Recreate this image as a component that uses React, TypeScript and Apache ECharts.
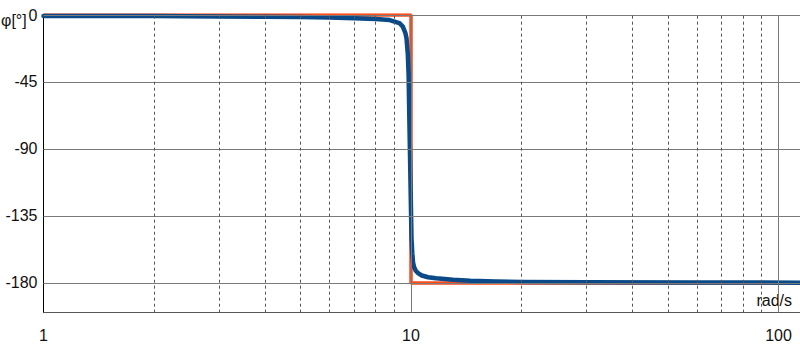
import React, { useEffect, useRef } from "react";
import * as echarts from "echarts";

// Bode phase plot data
const freq = [1, 2, 3, 4, 5, 6, 7, 8, 8.75, 9.3, 9.5, 9.65, 9.72, 9.8, 9.85, 9.88, 9.93, 9.98, 10.03, 10.08, 10.13, 10.2, 10.3, 10.45, 10.7, 11.13, 11.7, 12.35, 13, 14.5, 17, 20, 30, 60, 114.4];
const phase = [-0.6, -0.7, -1.0, -1.2, -1.4, -1.7, -2.1, -2.7, -3.4, -5.4, -7.8, -12, -15.4, -26, -40, -60, -90, -120, -150, -160, -166.5, -169.5, -171.8, -173.4, -175, -176.2, -176.9, -177.4, -177.9, -178.6, -179.1, -179.3, -179.5, -179.7, -179.8];

const idealFreq = [1, 10, 10, 114.4];
const idealPhase = [0, 0, -180, -180];

const yTicks = [0, -45, -90, -135, -180];
const xMajor = [1, 10, 100];
const xMajorGrid = [10, 100];
const xMinor = [2, 3, 4, 5, 6, 7, 8, 9, 20, 30, 40, 50, 60, 70, 80, 90];

const FONT = "'Liberation Sans', Arial, Helvetica, sans-serif";

export default function App() {
  const ref = useRef<HTMLDivElement>(null);
  useEffect(() => {
    document.body.style.margin = "0";
    const chart = echarts.init(ref.current!, null, { renderer: "svg" });
    const option: any = {
      animation: false,
      grid: { left: 43.5, right: 0, top: 15, bottom: 33.3, containLabel: false, outerBoundsMode: "none" },
      xAxis: {
        type: "log",
        logBase: 10,
        min: 1,
        max: 114.4,
        axisLine: { show: true, onZero: false, lineStyle: { color: "#555", width: 1 } },
        axisTick: { show: false },
        splitLine: { show: false },
        axisLabel: {
          margin: 15,
          fontSize: 16,
          fontFamily: FONT,
          color: "#111",
          formatter: (v: number) => {
            const m = xMajor.find((t) => Math.abs(t - v) < 1e-6 * t);
            return m !== undefined ? String(m) : "";
          },
        },
      },
      yAxis: {
        type: "value",
        min: -200,
        max: 0,
        axisLine: { show: true, onZero: false, lineStyle: { color: "#000", width: 1 } },
        axisTick: { show: false },
        splitLine: { show: false },
        axisLabel: {
          customValues: yTicks,
          margin: 6,
          fontSize: 16,
          fontFamily: FONT,
          color: "#111",
        },
      },
      graphic: [
        {
          type: "text",
          style: { text: "φ[°]", x: 1, y: 20.5, font: `16px ${FONT}`, fill: "#111", verticalAlign: "middle", align: "left" },
        },
        {
          type: "text",
          style: { text: "rad/s", x: 792, y: 300, font: `16px ${FONT}`, fill: "#111", verticalAlign: "middle", align: "right" },
        },
      ],
      series: [
        {
          type: "line",
          name: "grid",
          z: 1,
          data: [[1, 0]],
          symbol: "none",
          lineStyle: { opacity: 0 },
          silent: true,
          markLine: {
            silent: true,
            symbol: ["none", "none"],
            label: { show: false },
            animation: false,
            data: [
              ...yTicks.map((v) => ({ yAxis: v, lineStyle: { color: "#7a7a7a", width: 1, type: "solid" } })),
              ...xMajorGrid.map((v) => ({ xAxis: v, lineStyle: { color: "#7a7a7a", width: 1, type: "solid" } })),
              ...xMinor.map((v) => ({ xAxis: v, lineStyle: { color: "#555", width: 1, type: [3, 3] } })),
            ],
          },
        },
        {
          type: "line",
          name: "ideal",
          z: 3,
          data: idealFreq.map((f, i) => [f, idealPhase[i]]),
          symbol: "none",
          lineStyle: { color: "#ff4a1a", width: 3.5 },
        },
        {
          type: "line",
          name: "phase",
          z: 4,
          data: freq.map((f, i) => [f, phase[i]]),
          symbol: "none",
          lineStyle: { color: "#0b4a88", width: 4.5, join: "round", cap: "round" },
        },
      ],
    };
    chart.setOption(option);
    return () => chart.dispose();
  }, []);
  return <div ref={ref} style={{ width: 800, height: 346 }} />;
}
